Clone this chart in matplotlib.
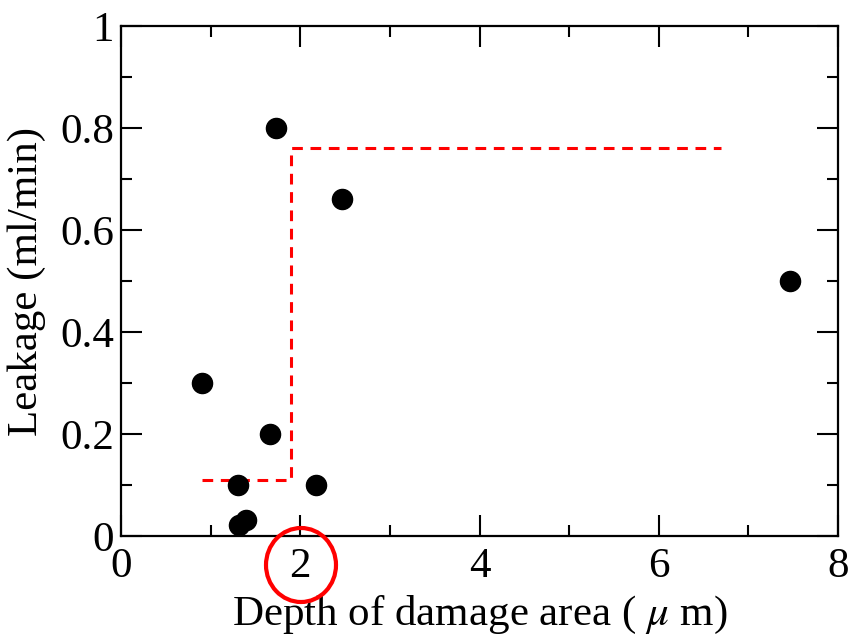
import matplotlib
matplotlib.use("Agg")
import matplotlib.pyplot as plt
from matplotlib.patches import Ellipse

plt.rcParams['font.family'] = ['Liberation Serif', 'DejaVu Serif']
plt.rcParams['mathtext.fontset'] = 'stix'

# measured points
depth = [0.90, 1.73, 2.47, 7.47, 1.66, 1.30, 2.18, 1.32, 1.40]
leakage = [0.30, 0.80, 0.66, 0.50, 0.20, 0.10, 0.10, 0.022, 0.032]

# threshold step line
step_x = [0.90, 1.90, 1.90, 6.70]
step_y = [0.11, 0.11, 0.76, 0.76]

xticks = [0, 2, 4, 6, 8]
xtick_labels = ["0", "2", "4", "6", "8"]
yticks = [0, 0.2, 0.4, 0.6, 0.8, 1.0]
ytick_labels = ["0", "0.2", "0.4", "0.6", "0.8", "1"]

fig = plt.figure(figsize=(8.48, 6.38), dpi=100)
ax = fig.add_axes([0.1427, 0.1599, 0.8455, 0.7993])

ax.plot(step_x, step_y, color="red", linestyle=(0, (3.5, 2.5)), linewidth=2.2)
ax.scatter(depth, leakage, s=210, color="black", zorder=3)

ax.set_xlim(0, 8)
ax.set_ylim(0, 1)
ax.set_xticks(xticks)
ax.set_xticklabels(xtick_labels)
ax.set_xticks([1, 3, 5, 7], minor=True)
ax.set_yticks(yticks)
ax.set_yticklabels(ytick_labels)
ax.set_yticks([0.1, 0.3, 0.5, 0.7, 0.9], minor=True)

ax.tick_params(which="both", direction="in", top=True, right=True, width=1.5, labelsize=31)
ax.tick_params(axis="x", which="major", length=15, pad=8)
ax.tick_params(axis="y", which="major", length=15, pad=5)
ax.tick_params(which="minor", length=8)
for s in ax.spines.values():
    s.set_linewidth(1.6)

ax.set_xlabel("Depth of damage area ( $\\mu$ m)", fontsize=31, labelpad=6)
ax.set_ylabel("Leakage (ml/min)", fontsize=31, labelpad=10)

# red circle around the "2" tick label
circ = Ellipse((301 / 848, 1 - 565 / 638), 70 / 848, 74 / 638, transform=fig.transFigure,
               fill=False, edgecolor="red", linewidth=3, clip_on=False)
fig.patches.append(circ)

fig.savefig("out.png", dpi=100)
